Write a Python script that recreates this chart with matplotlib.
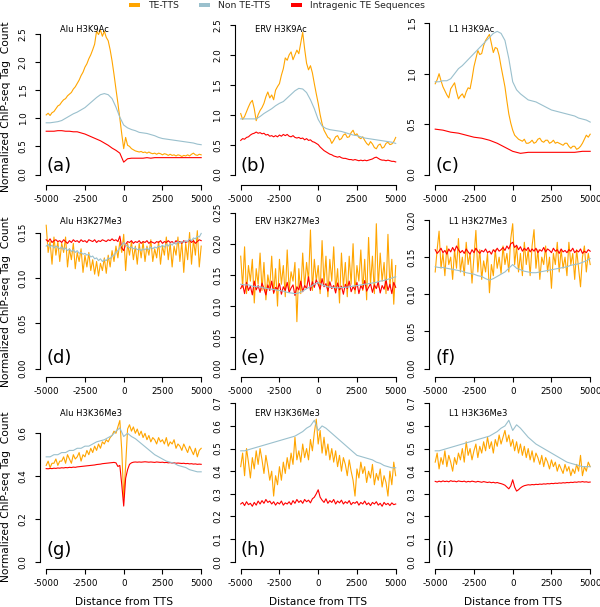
import numpy as np
import matplotlib
matplotlib.use("Agg")
import matplotlib.pyplot as plt
import matplotlib.patches as patches

plt.rcParams["font.family"] = ["DejaVu Sans"]
plt.rcParams["axes.unicode_minus"] = False

# ---- data ----
series_names = ["TE-TTS", "Non TE-TTS", "Intragenic TE Sequences"]
panel_titles = ["Alu H3K9Ac", "ERV H3K9Ac", "L1 H3K9Ac",
                "Alu H3K27Me3", "ERV H3K27Me3", "L1 H3K27Me3",
                "Alu H3K36Me3", "ERV H3K36Me3", "L1 H3K36Me3"]
panel_letters = ["(a)", "(b)", "(c)", "(d)", "(e)", "(f)", "(g)", "(h)", "(i)"]
x_ticks = [-5000, -2500, 0, 2500, 5000]
y_ticks = [[0, 0.5, 1.0, 1.5, 2.0, 2.5], [0, 0.5, 1.0, 1.5, 2.0, 2.5], [0, 0.5, 1.0, 1.5],
           [0, 0.05, 0.10, 0.15], [0, 0.05, 0.10, 0.15, 0.20, 0.25], [0, 0.05, 0.10, 0.15, 0.20],
           [0, 0.2, 0.4, 0.6], [0, 0.1, 0.2, 0.3, 0.4, 0.5, 0.6, 0.7], [0, 0.1, 0.2, 0.3, 0.4, 0.5, 0.6, 0.7]]
y_fmt = ["%.1f", "%.1f", "%.1f", "%.2f", "%.2f", "%.2f", "%.1f", "%.1f", "%.1f"]

# (a) Alu H3K9Ac
a_te = [1.06, 1.09, 1.05, 1.10, 1.12, 1.17, 1.22, 1.24, 1.29, 1.33, 1.35, 1.40, 1.43, 1.46, 1.52, 1.56,
        1.62, 1.68, 1.76, 1.82, 1.91, 1.97, 2.06, 2.13, 2.22, 2.32, 2.55, 2.49, 2.57, 2.46, 2.55, 2.44,
        2.38, 2.22, 2.02, 1.78, 1.52, 1.27, 1.00, 0.72, 0.46, 0.66, 0.52, 0.50, 0.46, 0.44, 0.42, 0.41,
        0.40, 0.41, 0.39, 0.40, 0.38, 0.40, 0.38, 0.37, 0.38, 0.36, 0.38, 0.37, 0.35, 0.37, 0.36, 0.34,
        0.36, 0.34, 0.35, 0.33, 0.35, 0.34, 0.32, 0.34, 0.33, 0.35, 0.33, 0.36, 0.38, 0.35, 0.34, 0.36, 0.35]
a_non = [0.92, 0.92, 0.93, 0.94, 0.96, 1.00, 1.04, 1.08, 1.11, 1.15, 1.19, 1.25, 1.31, 1.37, 1.42, 1.44,
         1.42, 1.35, 1.20, 1.02, 0.88, 0.83, 0.80, 0.78, 0.75, 0.74, 0.73, 0.71, 0.69, 0.66, 0.64, 0.63,
         0.62, 0.61, 0.60, 0.59, 0.58, 0.57, 0.56, 0.54, 0.53]
a_intra = [0.77, 0.77, 0.77, 0.78, 0.78, 0.77, 0.77, 0.76, 0.76, 0.74, 0.72, 0.69, 0.66, 0.63, 0.60, 0.56,
           0.52, 0.47, 0.43, 0.38, 0.22, 0.28, 0.29, 0.29, 0.29, 0.29, 0.30, 0.29, 0.30, 0.30, 0.30, 0.30,
           0.30, 0.30, 0.30, 0.30, 0.30, 0.30, 0.30, 0.30, 0.30]

# (b) ERV H3K9Ac
b_te = [1.02, 0.92, 0.97, 1.05, 1.13, 1.20, 1.24, 1.10, 0.90, 1.00, 1.07, 1.12, 1.19, 1.30, 1.38, 1.28,
        1.33, 1.25, 1.41, 1.47, 1.52, 1.66, 1.77, 1.95, 1.91, 2.00, 2.05, 1.92, 2.00, 2.08, 2.02, 2.20,
        2.38, 2.10, 1.86, 1.75, 1.82, 1.70, 1.52, 1.35, 1.19, 1.00, 0.85, 0.74, 0.68, 0.62, 0.60, 0.52,
        0.57, 0.63, 0.65, 0.58, 0.60, 0.66, 0.68, 0.62, 0.63, 0.70, 0.74, 0.66, 0.68, 0.62, 0.60, 0.63,
        0.57, 0.52, 0.49, 0.55, 0.51, 0.45, 0.43, 0.49, 0.51, 0.44, 0.46, 0.52, 0.54, 0.50, 0.51, 0.55, 0.62]
b_non = [0.93, 0.93, 0.93, 0.93, 0.93, 0.97, 1.02, 1.06, 1.10, 1.15, 1.19, 1.22, 1.28, 1.34, 1.40, 1.44,
         1.43, 1.37, 1.25, 1.10, 0.92, 0.81, 0.77, 0.75, 0.74, 0.73, 0.72, 0.70, 0.68, 0.66, 0.65, 0.63,
         0.61, 0.60, 0.59, 0.58, 0.57, 0.56, 0.55, 0.54, 0.52]
b_intra = [0.57, 0.60, 0.59, 0.62, 0.63, 0.66, 0.68, 0.69, 0.71, 0.69, 0.70, 0.68, 0.69, 0.66, 0.67, 0.64,
           0.65, 0.63, 0.65, 0.63, 0.66, 0.64, 0.67, 0.65, 0.67, 0.64, 0.63, 0.65, 0.62, 0.61, 0.62, 0.60,
           0.61, 0.58, 0.60, 0.57, 0.58, 0.55, 0.54, 0.52, 0.50, 0.46, 0.43, 0.40, 0.38, 0.36, 0.34, 0.33,
           0.31, 0.30, 0.29, 0.30, 0.28, 0.27, 0.27, 0.26, 0.25, 0.25, 0.24, 0.25, 0.24, 0.23, 0.24, 0.23,
           0.24, 0.23, 0.24, 0.25, 0.26, 0.28, 0.29, 0.27, 0.25, 0.24, 0.24, 0.23, 0.24, 0.23, 0.22, 0.22, 0.21]

# (c) L1 H3K9Ac
c_te = [0.90, 0.94, 1.00, 0.93, 0.87, 0.83, 0.79, 0.76, 0.85, 0.88, 0.91, 0.82, 0.75, 0.78, 0.80, 0.76,
        0.82, 0.86, 0.85, 0.95, 1.07, 1.15, 1.23, 1.19, 1.20, 1.28, 1.33, 1.36, 1.39, 1.30, 1.21, 1.26,
        1.25, 1.18, 1.07, 0.97, 0.87, 0.73, 0.60, 0.51, 0.44, 0.39, 0.37, 0.35, 0.34, 0.33, 0.35, 0.31,
        0.31, 0.32, 0.34, 0.31, 0.32, 0.35, 0.36, 0.33, 0.32, 0.34, 0.34, 0.31, 0.32, 0.34, 0.31, 0.32,
        0.31, 0.30, 0.29, 0.31, 0.31, 0.28, 0.26, 0.28, 0.28, 0.25, 0.26, 0.28, 0.31, 0.35, 0.39, 0.37, 0.40]
c_non = [0.92, 0.92, 0.93, 0.93, 0.95, 1.00, 1.05, 1.08, 1.12, 1.16, 1.20, 1.24, 1.28, 1.32, 1.36, 1.40,
         1.42, 1.40, 1.33, 1.15, 0.92, 0.84, 0.80, 0.77, 0.74, 0.73, 0.72, 0.70, 0.68, 0.66, 0.64, 0.63,
         0.62, 0.61, 0.60, 0.59, 0.58, 0.56, 0.55, 0.54, 0.52]
c_intra = [0.45, 0.44, 0.42, 0.41, 0.39, 0.37, 0.36, 0.34, 0.31, 0.27, 0.23, 0.21, 0.22, 0.22, 0.22, 0.22,
           0.22, 0.22, 0.22, 0.23, 0.23]

# (d) Alu H3K27Me3
d_te = [0.158, 0.128, 0.140, 0.115, 0.145, 0.125, 0.140, 0.118, 0.138, 0.128, 0.145, 0.112, 0.132, 0.120,
        0.138, 0.110, 0.128, 0.118, 0.132, 0.106, 0.125, 0.112, 0.128, 0.108, 0.120, 0.104, 0.118, 0.102,
        0.116, 0.108, 0.122, 0.105, 0.125, 0.112, 0.130, 0.118, 0.135, 0.122, 0.140, 0.128, 0.148, 0.108,
        0.138, 0.125, 0.140, 0.120, 0.135, 0.115, 0.138, 0.122, 0.140, 0.118, 0.135, 0.125, 0.142, 0.118,
        0.132, 0.122, 0.140, 0.115, 0.135, 0.125, 0.145, 0.120, 0.138, 0.112, 0.135, 0.125, 0.145, 0.118,
        0.140, 0.106, 0.138, 0.120, 0.150, 0.115, 0.142, 0.125, 0.152, 0.112, 0.135]
d_non = [0.135, 0.137, 0.134, 0.136, 0.133, 0.135, 0.134, 0.132, 0.134, 0.131, 0.133, 0.130, 0.132, 0.129,
         0.131, 0.128, 0.130, 0.127, 0.128, 0.126, 0.127, 0.125, 0.126, 0.123, 0.124, 0.121, 0.122, 0.119,
         0.121, 0.118, 0.120, 0.119, 0.122, 0.121, 0.124, 0.125, 0.128, 0.130, 0.133, 0.136, 0.139, 0.136,
         0.135, 0.133, 0.134, 0.132, 0.133, 0.131, 0.132, 0.130, 0.132, 0.131, 0.133, 0.131, 0.134, 0.132,
         0.134, 0.133, 0.135, 0.134, 0.136, 0.134, 0.137, 0.135, 0.138, 0.136, 0.139, 0.137, 0.140, 0.138,
         0.140, 0.139, 0.141, 0.140, 0.143, 0.141, 0.144, 0.143, 0.146, 0.145, 0.149]
d_intra = [0.142, 0.140, 0.143, 0.139, 0.141, 0.142, 0.140, 0.141, 0.139, 0.142, 0.140, 0.138, 0.141, 0.139,
           0.142, 0.140, 0.141, 0.139, 0.142, 0.140, 0.141, 0.139, 0.142, 0.141, 0.140, 0.142, 0.139, 0.141,
           0.140, 0.142, 0.141, 0.140, 0.142, 0.141, 0.143, 0.141, 0.142, 0.140, 0.146, 0.133, 0.130, 0.137,
           0.140, 0.139, 0.141, 0.138, 0.140, 0.139, 0.141, 0.138, 0.140, 0.139, 0.141, 0.138, 0.140, 0.139,
           0.138, 0.140, 0.139, 0.141, 0.138, 0.140, 0.139, 0.141, 0.139, 0.140, 0.138, 0.141, 0.139, 0.140,
           0.138, 0.141, 0.139, 0.140, 0.142, 0.139, 0.141, 0.138, 0.140, 0.142, 0.141]

# (e) ERV H3K27Me3
e_te = [0.180, 0.130, 0.195, 0.120, 0.165, 0.140, 0.175, 0.105, 0.160, 0.135, 0.185, 0.125, 0.170, 0.110,
        0.150, 0.130, 0.180, 0.120, 0.160, 0.100, 0.175, 0.135, 0.165, 0.115, 0.190, 0.125, 0.155, 0.140,
        0.170, 0.075, 0.160, 0.120, 0.185, 0.130, 0.170, 0.140, 0.222, 0.125, 0.175, 0.140, 0.165, 0.120,
        0.205, 0.135, 0.180, 0.115, 0.175, 0.140, 0.195, 0.125, 0.160, 0.105, 0.185, 0.130, 0.170, 0.115,
        0.180, 0.135, 0.200, 0.120, 0.165, 0.140, 0.190, 0.125, 0.175, 0.110, 0.210, 0.135, 0.180, 0.120,
        0.232, 0.130, 0.185, 0.140, 0.170, 0.120, 0.215, 0.130, 0.175, 0.103, 0.165]
e_non = [0.135, 0.134, 0.134, 0.132, 0.131, 0.131, 0.129, 0.128, 0.127, 0.126, 0.125, 0.124, 0.122, 0.121,
         0.120, 0.121, 0.124, 0.128, 0.131, 0.135, 0.138, 0.134, 0.132, 0.130, 0.130, 0.129, 0.130, 0.130,
         0.131, 0.132, 0.133, 0.134, 0.135, 0.136, 0.137, 0.138, 0.140, 0.141, 0.143, 0.145, 0.147]
e_intra = [0.128, 0.135, 0.120, 0.138, 0.125, 0.132, 0.118, 0.140, 0.126, 0.133, 0.122, 0.137, 0.128, 0.118,
           0.134, 0.125, 0.140, 0.121, 0.130, 0.127, 0.136, 0.119, 0.131, 0.125, 0.138, 0.122, 0.129, 0.134,
           0.117, 0.131, 0.126, 0.140, 0.123, 0.133, 0.128, 0.147, 0.125, 0.139, 0.130, 0.142, 0.135, 0.127,
           0.144, 0.131, 0.136, 0.124, 0.139, 0.128, 0.133, 0.121, 0.137, 0.126, 0.132, 0.119, 0.135, 0.128,
           0.140, 0.123, 0.131, 0.126, 0.138, 0.120, 0.133, 0.127, 0.141, 0.124, 0.130, 0.136, 0.122, 0.134,
           0.128, 0.139, 0.121, 0.133, 0.127, 0.142, 0.125, 0.135, 0.120, 0.138, 0.130]

# (f) L1 H3K27Me3
f_te = [0.130, 0.160, 0.185, 0.135, 0.155, 0.125, 0.165, 0.140, 0.150, 0.120, 0.160, 0.135, 0.175, 0.130,
        0.150, 0.125, 0.170, 0.140, 0.155, 0.115, 0.150, 0.186, 0.130, 0.160, 0.120, 0.145, 0.130, 0.155,
        0.102, 0.140, 0.125, 0.160, 0.135, 0.150, 0.128, 0.165, 0.140, 0.155, 0.130, 0.175, 0.195, 0.140,
        0.165, 0.130, 0.155, 0.125, 0.170, 0.140, 0.160, 0.125, 0.165, 0.187, 0.135, 0.160, 0.120, 0.150,
        0.140, 0.165, 0.130, 0.150, 0.108, 0.155, 0.140, 0.170, 0.130, 0.160, 0.135, 0.150, 0.125, 0.170,
        0.140, 0.155, 0.120, 0.160, 0.135, 0.110, 0.150, 0.165, 0.130, 0.155, 0.140]
f_non = [0.137, 0.136, 0.136, 0.135, 0.134, 0.133, 0.132, 0.131, 0.129, 0.128, 0.127, 0.125, 0.124, 0.121,
         0.119, 0.121, 0.124, 0.127, 0.130, 0.135, 0.140, 0.135, 0.133, 0.131, 0.130, 0.129, 0.129, 0.130,
         0.131, 0.132, 0.133, 0.134, 0.135, 0.136, 0.137, 0.139, 0.140, 0.141, 0.143, 0.145, 0.148]
f_intra = [0.160, 0.155, 0.158, 0.162, 0.156, 0.159, 0.154, 0.161, 0.157, 0.163, 0.158, 0.165, 0.160, 0.156,
           0.159, 0.155, 0.161, 0.157, 0.154, 0.160, 0.156, 0.162, 0.158, 0.155, 0.159, 0.157, 0.161, 0.156,
           0.158, 0.154, 0.160, 0.157, 0.162, 0.158, 0.160, 0.163, 0.159, 0.165, 0.161, 0.168, 0.170, 0.163,
           0.166, 0.160, 0.164, 0.158, 0.162, 0.159, 0.163, 0.157, 0.161, 0.158, 0.162, 0.156, 0.160, 0.158,
           0.163, 0.157, 0.161, 0.159, 0.156, 0.162, 0.158, 0.160, 0.155, 0.161, 0.157, 0.159, 0.156, 0.160,
           0.158, 0.162, 0.156, 0.159, 0.157, 0.161, 0.155, 0.158, 0.156, 0.160, 0.158]

# (g) Alu H3K36Me3
g_te = [0.45, 0.47, 0.44, 0.46, 0.46, 0.48, 0.45, 0.47, 0.47, 0.49, 0.46, 0.50, 0.48, 0.46, 0.50, 0.48,
        0.49, 0.51, 0.47, 0.50, 0.49, 0.52, 0.50, 0.53, 0.51, 0.54, 0.52, 0.55, 0.53, 0.56, 0.55, 0.57,
        0.56, 0.58, 0.59, 0.61, 0.60, 0.63, 0.66, 0.52, 0.30, 0.45, 0.62, 0.64, 0.61, 0.63, 0.60, 0.62,
        0.59, 0.61, 0.58, 0.60, 0.57, 0.59, 0.56, 0.58, 0.57, 0.55, 0.58, 0.56, 0.57, 0.55, 0.58, 0.54,
        0.56, 0.55, 0.57, 0.53, 0.55, 0.54, 0.52, 0.55, 0.53, 0.51, 0.54, 0.52, 0.50, 0.53, 0.49, 0.52, 0.53]
g_non = [0.49, 0.49, 0.50, 0.50, 0.51, 0.51, 0.52, 0.52, 0.53, 0.53, 0.54, 0.54, 0.55, 0.56, 0.565, 0.57,
         0.58, 0.59, 0.61, 0.625, 0.585, 0.60, 0.585, 0.575, 0.56, 0.545, 0.53, 0.515, 0.50, 0.49, 0.48,
         0.47, 0.465, 0.46, 0.45, 0.445, 0.44, 0.43, 0.425, 0.42, 0.42]
g_intra = [0.435, 0.434, 0.436, 0.435, 0.437, 0.436, 0.438, 0.437, 0.439, 0.438, 0.440, 0.439, 0.441, 0.440,
           0.442, 0.441, 0.443, 0.444, 0.445, 0.446, 0.447, 0.448, 0.449, 0.450, 0.451, 0.452, 0.454, 0.455,
           0.456, 0.458, 0.459, 0.460, 0.461, 0.462, 0.463, 0.464, 0.462, 0.445, 0.450, 0.360, 0.260, 0.390,
           0.430, 0.455, 0.462, 0.465, 0.466, 0.465, 0.466, 0.465, 0.466, 0.467, 0.466, 0.465, 0.466, 0.465,
           0.464, 0.466, 0.465, 0.464, 0.465, 0.463, 0.464, 0.462, 0.463, 0.461, 0.462, 0.460, 0.461, 0.460,
           0.459, 0.460, 0.458, 0.459, 0.457, 0.458, 0.456, 0.457, 0.455, 0.456, 0.455]

# (h) ERV H3K36Me3
h_te = [0.42, 0.48, 0.38, 0.50, 0.44, 0.37, 0.46, 0.41, 0.49, 0.43, 0.50, 0.45, 0.39, 0.47, 0.42, 0.36,
        0.40, 0.29, 0.38, 0.34, 0.42, 0.36, 0.44, 0.39, 0.46, 0.41, 0.48, 0.43, 0.55, 0.45, 0.49, 0.44,
        0.52, 0.46, 0.50, 0.45, 0.54, 0.49, 0.57, 0.63, 0.52, 0.58, 0.48, 0.55, 0.47, 0.52, 0.45, 0.50,
        0.44, 0.49, 0.42, 0.47, 0.40, 0.46, 0.43, 0.38, 0.45, 0.40, 0.36, 0.29, 0.41, 0.37, 0.44, 0.39,
        0.42, 0.35, 0.40, 0.37, 0.43, 0.34, 0.39, 0.36, 0.41, 0.33, 0.38, 0.35, 0.29, 0.40, 0.34, 0.44, 0.38]
h_non = [0.49, 0.49, 0.495, 0.50, 0.505, 0.51, 0.515, 0.52, 0.525, 0.53, 0.535, 0.54, 0.545, 0.55, 0.555,
         0.565, 0.575, 0.59, 0.60, 0.625, 0.58, 0.60, 0.59, 0.575, 0.56, 0.545, 0.53, 0.515, 0.50, 0.485,
         0.47, 0.465, 0.46, 0.455, 0.45, 0.44, 0.435, 0.425, 0.42, 0.415, 0.415]
h_intra = [0.255, 0.262, 0.248, 0.265, 0.252, 0.258, 0.245, 0.262, 0.250, 0.268, 0.255, 0.270, 0.258, 0.275,
           0.262, 0.268, 0.255, 0.265, 0.250, 0.262, 0.255, 0.268, 0.250, 0.260, 0.255, 0.265, 0.252, 0.270,
           0.258, 0.275, 0.262, 0.270, 0.258, 0.275, 0.265, 0.272, 0.260, 0.278, 0.285, 0.300, 0.318, 0.285,
           0.272, 0.262, 0.278, 0.258, 0.270, 0.262, 0.275, 0.255, 0.268, 0.260, 0.272, 0.255, 0.265, 0.258,
           0.270, 0.252, 0.262, 0.258, 0.266, 0.250, 0.262, 0.255, 0.268, 0.252, 0.260, 0.248, 0.262, 0.255,
           0.265, 0.250, 0.258, 0.245, 0.262, 0.252, 0.258, 0.248, 0.260, 0.252, 0.255]

# (i) L1 H3K36Me3
i_te = [0.44, 0.48, 0.41, 0.46, 0.43, 0.49, 0.42, 0.47, 0.44, 0.40, 0.46, 0.43, 0.48, 0.45, 0.50, 0.44,
        0.53, 0.47, 0.50, 0.45, 0.49, 0.52, 0.46, 0.51, 0.48, 0.53, 0.49, 0.55, 0.50, 0.53, 0.48, 0.54,
        0.51, 0.56, 0.52, 0.55, 0.58, 0.53, 0.56, 0.51, 0.54, 0.49, 0.53, 0.48, 0.52, 0.47, 0.51, 0.46,
        0.50, 0.45, 0.49, 0.44, 0.48, 0.46, 0.43, 0.47, 0.42, 0.46, 0.44, 0.41, 0.45, 0.42, 0.44, 0.40,
        0.43, 0.41, 0.39, 0.43, 0.40, 0.42, 0.38, 0.41, 0.39, 0.43, 0.40, 0.47, 0.38, 0.42, 0.40, 0.44, 0.42]
i_non = [0.49, 0.49, 0.495, 0.50, 0.505, 0.51, 0.515, 0.52, 0.525, 0.53, 0.535, 0.54, 0.545, 0.55, 0.555,
         0.565, 0.575, 0.59, 0.60, 0.625, 0.58, 0.605, 0.59, 0.57, 0.55, 0.535, 0.52, 0.51, 0.50, 0.49,
         0.48, 0.47, 0.46, 0.45, 0.44, 0.435, 0.43, 0.425, 0.42, 0.42, 0.42]
i_intra = [0.355, 0.352, 0.356, 0.353, 0.357, 0.354, 0.356, 0.353, 0.358, 0.355, 0.356, 0.353, 0.357, 0.355,
           0.354, 0.356, 0.352, 0.355, 0.353, 0.356, 0.354, 0.352, 0.355, 0.353, 0.351, 0.354, 0.352, 0.350,
           0.352, 0.349, 0.351, 0.348, 0.350, 0.347, 0.345, 0.342, 0.338, 0.330, 0.322, 0.335, 0.362, 0.330,
           0.312, 0.318, 0.326, 0.332, 0.336, 0.338, 0.340, 0.339, 0.341, 0.340, 0.342, 0.341, 0.343, 0.342,
           0.344, 0.343, 0.345, 0.344, 0.346, 0.345, 0.347, 0.346, 0.348, 0.347, 0.349, 0.348, 0.350, 0.349,
           0.351, 0.350, 0.352, 0.351, 0.353, 0.352, 0.354, 0.352, 0.353, 0.351, 0.352]

te_series = [a_te, b_te, c_te, d_te, e_te, f_te, g_te, h_te, i_te]
non_series = [a_non, b_non, c_non, d_non, e_non, f_non, g_non, h_non, i_non]
intra_series = [a_intra, b_intra, c_intra, d_intra, e_intra, f_intra, g_intra, h_intra, i_intra]

# ---- layout, in pixels of the 600 x 607 picture ----
W, H = 600, 607
spine_x = [40, 234.5, 429]
spine_y = [185, 377, 569]          # x-axis line of each row (from top)
ax_w, ax_h = 167.4, 168
zero_px = [174.5, 174.5, 174.5, 368.5, 368.5, 368.5, 561.7, 561.7, 561.7]
top_tick_px = [34, 25, 23.3, 232.5, 212.5, 220, 433.3, 403.3, 403.3]

colors = {"te": "#FFA500", "non": "#9AC0CD", "intra": "#FF0000"}

fig = plt.figure(figsize=(W / 100, H / 100), dpi=100)

for k in range(9):
    r, c = divmod(k, 3)
    left, bottom = spine_x[c], spine_y[r]
    ax = fig.add_axes([left / W, 1 - bottom / H, ax_w / W, ax_h / H])

    for vals, key in [(te_series[k], "te"), (intra_series[k], "intra"), (non_series[k], "non")]:
        xs = np.linspace(-5000, 5000, len(vals))
        ax.plot(xs, vals, color=colors[key], lw=0.8)

    ax.set_xlim(-5400, 5400)
    top = y_ticks[k][-1]
    s = (zero_px[k] - top_tick_px[k]) / top
    ylo = -(bottom - zero_px[k]) / s
    ax.set_ylim(ylo, ylo + ax_h / s)

    ax.set_xticks(x_ticks)
    ax.set_xticklabels([str(v) for v in x_ticks])
    ax.set_yticks(y_ticks[k])
    ax.set_yticklabels([y_fmt[k] % v for v in y_ticks[k]], rotation=90, va="center")
    for side in ["top", "right"]:
        ax.spines[side].set_visible(False)
    ax.spines["left"].set_bounds(0, top)
    ax.spines["bottom"].set_bounds(-5000, 5000)
    for side in ["left", "bottom"]:
        ax.spines[side].set_linewidth(0.8)
    ax.tick_params(axis="both", length=3.8, width=0.8, labelsize=6.3)
    ax.tick_params(axis="y", pad=5.0)
    ax.tick_params(axis="x", pad=3.2)
    ax.patch.set_alpha(0)

    ax.text(0.12, 1 - 12.5 / ax_h, panel_titles[k], transform=ax.transAxes,
            fontsize=6.0, ha="left", va="center")
    ax.text(-5000, ylo + 19 / s, panel_letters[k], fontsize=13, ha="left", va="center")

# y labels (left column) and x labels (bottom row)
for yc in [107, 302, 497]:
    fig.text(6 / W, 1 - yc / H, "Normalized ChIP-seq Tag  Count", rotation=90,
             fontsize=7.7, ha="center", va="center")
for c in range(3):
    fig.text((spine_x[c] + 84) / W, 1 - 602 / H, "Distance from TTS",
             fontsize=7.7, ha="center", va="center")

# legend across the top
leg_x = [129, 199, 291]
for name, key, lx in zip(series_names, ["te", "non", "intra"], leg_x):
    fig.add_artist(patches.Rectangle((lx / W, 1 - 7.3 / H), 11 / W, 4.6 / H,
                                     transform=fig.transFigure, facecolor=colors[key],
                                     edgecolor="none"))
    fig.text((lx + 19) / W, 1 - 5 / H, name, fontsize=6.7, ha="left", va="center", color="#222222")

fig.savefig("out.png", dpi=100)
